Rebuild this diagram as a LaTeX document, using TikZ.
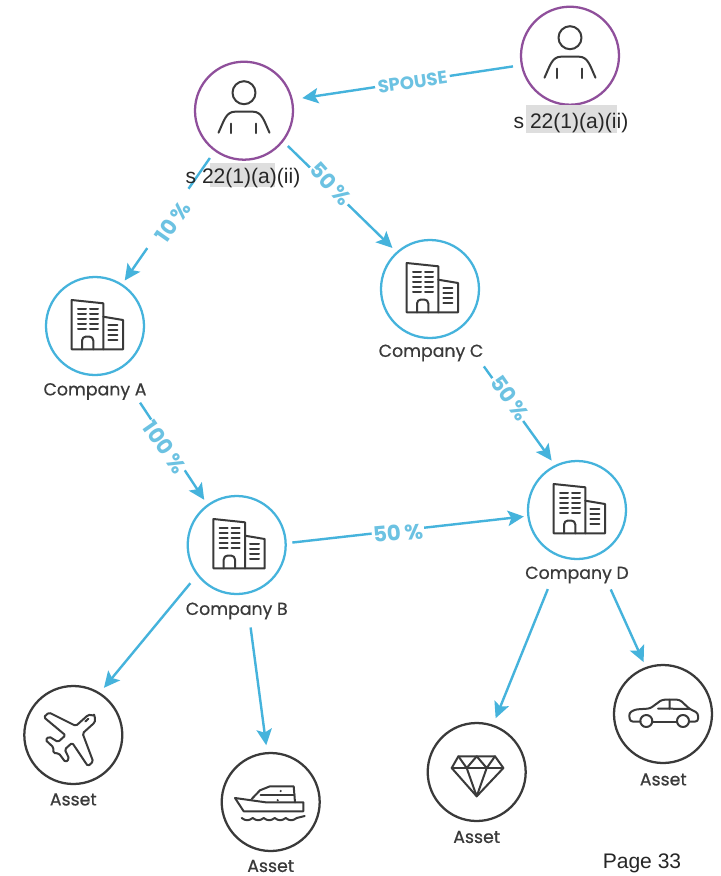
\documentclass[tikz,border=0pt]{standalone}
\usepackage{fontspec}
\setmainfont{Liberation Sans}
\newfontfamily\capfont{Poppins}[FakeBold=0.6]
\newfontfamily\pctfont{Poppins}
\usetikzlibrary{arrows.meta}
\definecolor{cblue}{HTML}{45B3DC}
\definecolor{lblue}{HTML}{6CC2E2}
\definecolor{cpurple}{HTML}{8F4F9B}
\definecolor{cdark}{HTML}{3A3A3A}
\definecolor{hl}{HTML}{DEDEDE}
\tikzset{
  ring/.style={circle,draw,line width=1.7pt,minimum size=73.5pt,inner sep=0pt,outer sep=0pt},
  personring/.style={ring,draw=cpurple},
  companyring/.style={ring,draw=cblue},
  assetring/.style={ring,draw=cdark},
  conn/.style={draw=cblue,line width=1.8pt,-{Stealth[length=12pt,width=11.5pt,inset=2.5pt]}},
  pct/.style={font=\pctfont\bfseries\fontsize{16}{17}\selectfont,text=lblue,fill=white,inner sep=1pt},
  spouselabel/.style={font=\pctfont\bfseries\fontsize{13.5}{14}\selectfont,text=lblue,fill=white,inner sep=2pt},
  caption/.style={font=\capfont\fontsize{13}{13}\selectfont,text=cdark,inner sep=0pt},
  ident/.style={font=\fontsize{15.8}{16}\selectfont,text=black!85,inner sep=0pt},
  icon/.style={draw=cdark,line width=1.5pt,line join=round,line cap=round},
  person/.pic={
    \draw[icon] (0,-18) circle[radius=11.5];
    \draw[icon] (-25.5,22) .. controls (-20,10) and (-18,1) .. (-9,1) -- (9,1) .. controls (18,1) and (20,10) .. (25.5,22);
    \draw[icon] (-13,13) -- (-13,22.5) (12,13) -- (12,22.5);
  },
  building/.pic={
    \draw[icon] (-23.3,23.3) -- (-23.3,-26) -- (8.3,-22.7) -- (8.3,23.3) -- cycle;
    \draw[icon] (8.3,-9.3) -- (28,-6) -- (28,23.3) -- (8.3,23.3);
    \foreach \yy in {-17,-12,-7,-2,3} {
      \draw[icon] (-17,\yy) -- (-9,\yy);
      \draw[icon] (-5,\yy) -- (3,\yy);
    }
    \foreach \yy in {-1,4,9,14}
      \draw[icon] (13.3,\yy) -- (22.3,\yy);
    \draw[icon,rounded corners=3pt] (-13,23.3) -- (-13,10.5) -- (-1.7,10.5) -- (-1.7,23.3);
  },
  plane/.pic={
    \draw[icon,rotate=42,rounded corners=1.2pt] (28,0) .. controls (27,-4) and (24,-5) .. (21,-5) -- (8,-5) -- (-3,-33) -- (-10,-33) -- (-6,-5) -- (-16,-5) -- (-19,-15) -- (-24,-15) -- (-23,-4) -- (-27,0) -- (-23,4) -- (-24,15) -- (-19,15) -- (-16,5) -- (-6,5) -- (-10,33) -- (-3,33) -- (8,5) -- (21,5) .. controls (24,5) and (27,4) .. (28,0) -- cycle;
    \draw[icon,rotate=42] (18,-2) -- (22,-2);
  },
  yacht/.pic={
    \draw[icon] (-35.7,-4) -- (-27,9.3) -- (32.7,9.3) -- (32.7,0.3) -- (-5,0.3) -- (-35.7,-4);
    \draw[icon] (-19,-3) -- (-10.7,-11.7) -- (-0.7,-15.7) -- (23,-15.7) -- (24.3,0.3);
    \draw[icon] (-10,-7) -- (24,-7);
    \draw[icon] (-29,16) .. controls (-25,19) and (-22,19) .. (-18,16) .. controls (-14,19) and (-11,19) .. (-7,16) .. controls (-3,19) and (0,19) .. (4,16) .. controls (8,19) and (11,19) .. (15,16) .. controls (19,19) and (22,19) .. (26,16) -- (34,14);
    \fill[cdark] (7,-1.8) circle[radius=1.2] (10,-11) circle[radius=1.2];
  },
  gem/.pic={
    \draw[icon] (-18.3,-15.7) -- (18.3,-15.7) -- (26.7,-4) -- (0,24.3) -- (-25,-4) -- cycle;
    \draw[icon] (-25,-4) -- (26.7,-4);
    \draw[icon] (-18.3,-15.7) -- (-10,-4) -- (0,-15.7) -- (10,-4) -- (18.3,-15.7);
    \draw[icon] (-10,-4) -- (0,24.3) -- (10,-4);
  },
  car/.pic={
    \draw[icon,rounded corners=2pt] (-22.5,7.5) -- (-33,7.5) -- (-34,-1) -- (-28,-4.5) -- (-13,-5.5) -- (-1,-14.3) -- (16.7,-14.3) -- (26.7,-5) -- (35,-1) -- (35,7.5) -- (26,7.5);
    \draw[icon] (-11,7.5) -- (14,7.5);
    \draw[icon] (-5,-5.5) -- (26.7,-5) (6.7,-14.3) -- (6.7,-5);
    \draw[icon] (-16.7,7) circle[radius=6] (20,7) circle[radius=6];
  },
}
\begin{document}
\begin{tikzpicture}[x=0.75pt,y=-0.75pt]
\fill[white] (0,0) rectangle (721,876);
\useasboundingbox (0,0) rectangle (721,876);

% rings
\node[personring] (p1) at (244,110.7) {};
\node[personring] (p2) at (570,55.7) {};
\node[companyring] (a) at (95,326) {};
\node[companyring] (b) at (236.7,545) {};
\node[companyring] (c) at (430,289) {};
\node[companyring] (d) at (577,510) {};
\node[assetring] (plane1) at (73.3,735) {};
\node[assetring] (yacht1) at (270.7,802) {};
\node[assetring] (gem1) at (476.7,772) {};
\node[assetring] (car1) at (663,714) {};

% icons
\pic at (p1) {person};
\pic at (p2) {person};
\pic at (a) {building};
\pic at (b) {building};
\pic at (c) {building};
\pic at (d) {building};
\pic at (plane1) {plane};
\pic at (yacht1) {yacht};
\pic at (gem1) {gem};
\pic at (car1) {car};

% connectors
\draw[conn,shorten <=6.75pt,shorten >=8pt] (p2.191) -- (p1.13.3);
\draw[conn,shorten <=7pt,shorten >=4pt] (p1.234.3) -- (a.57.8);
\draw[conn,shorten <=5.5pt,shorten >=5pt] (p1.-38.7) -- (c.132.8);
\draw[conn,shorten <=30pt,shorten >=5pt] (a.-62) -- (b.126);
\draw[conn,shorten <=34pt,shorten >=5pt] (c.-56.6) -- (d.116.6);
\draw[conn,shorten <=5pt,shorten >=3.4pt] (b.2) -- (d.187.5);
\draw[conn,shorten <=8.5pt,shorten >=5.5pt] (b.217.8) -- (plane1.58.3);
\draw[conn,shorten <=26pt,shorten >=6pt] (b.-79.4) -- (yacht1.94.7);
\draw[conn,shorten <=26.5pt,shorten >=6pt] (d.251.3) -- (gem1.71.3);
\draw[conn,shorten <=28pt,shorten >=4.8pt] (d.-68.2) -- (car1.110);

% connector labels
\node[spouselabel,rotate=8] (lspouse) at (412.5,82) {SPOUSE};
\node[pct,rotate=55,minimum width=54pt,minimum height=24pt] (l10) at (173,222) {10\,\%};
\node[pct,rotate=-48] (l50a) at (331,184) {50\,\%};
\node[pct,rotate=-55] (l100) at (165,447) {100\,\%};
\node[pct,rotate=-55] (l50b) at (510,398) {50\,\%};
\node[pct,rotate=5] (l50c) at (398,533) {50\,\%};

% identity labels
\fill[hl] (210,163) rectangle (275,187);
\fill[hl] (526,105) rectangle (617,133);
\node[ident] (t1) at (243,178) {s 22(1)(a)(ii)};
\node[ident] (t2) at (571,123.5) {s 22(1)(a)(ii)};

% captions
\node[caption] (ca) at (95,391.5) {Company A};
\node[caption] (cb) at (236.7,611) {Company B};
\node[caption] (cc) at (431,353) {Company C};
\node[caption] (cd) at (577,575) {Company D};
\node[caption] (as1) at (73.3,799.5) {Asset};
\node[caption] (as2) at (270.7,866) {Asset};
\node[caption] (as3) at (476.7,837) {Asset};
\node[caption] (as4) at (663.3,779.5) {Asset};
\node[ident] (page) at (642,863) {Page 33};
\end{tikzpicture}
\end{document}
